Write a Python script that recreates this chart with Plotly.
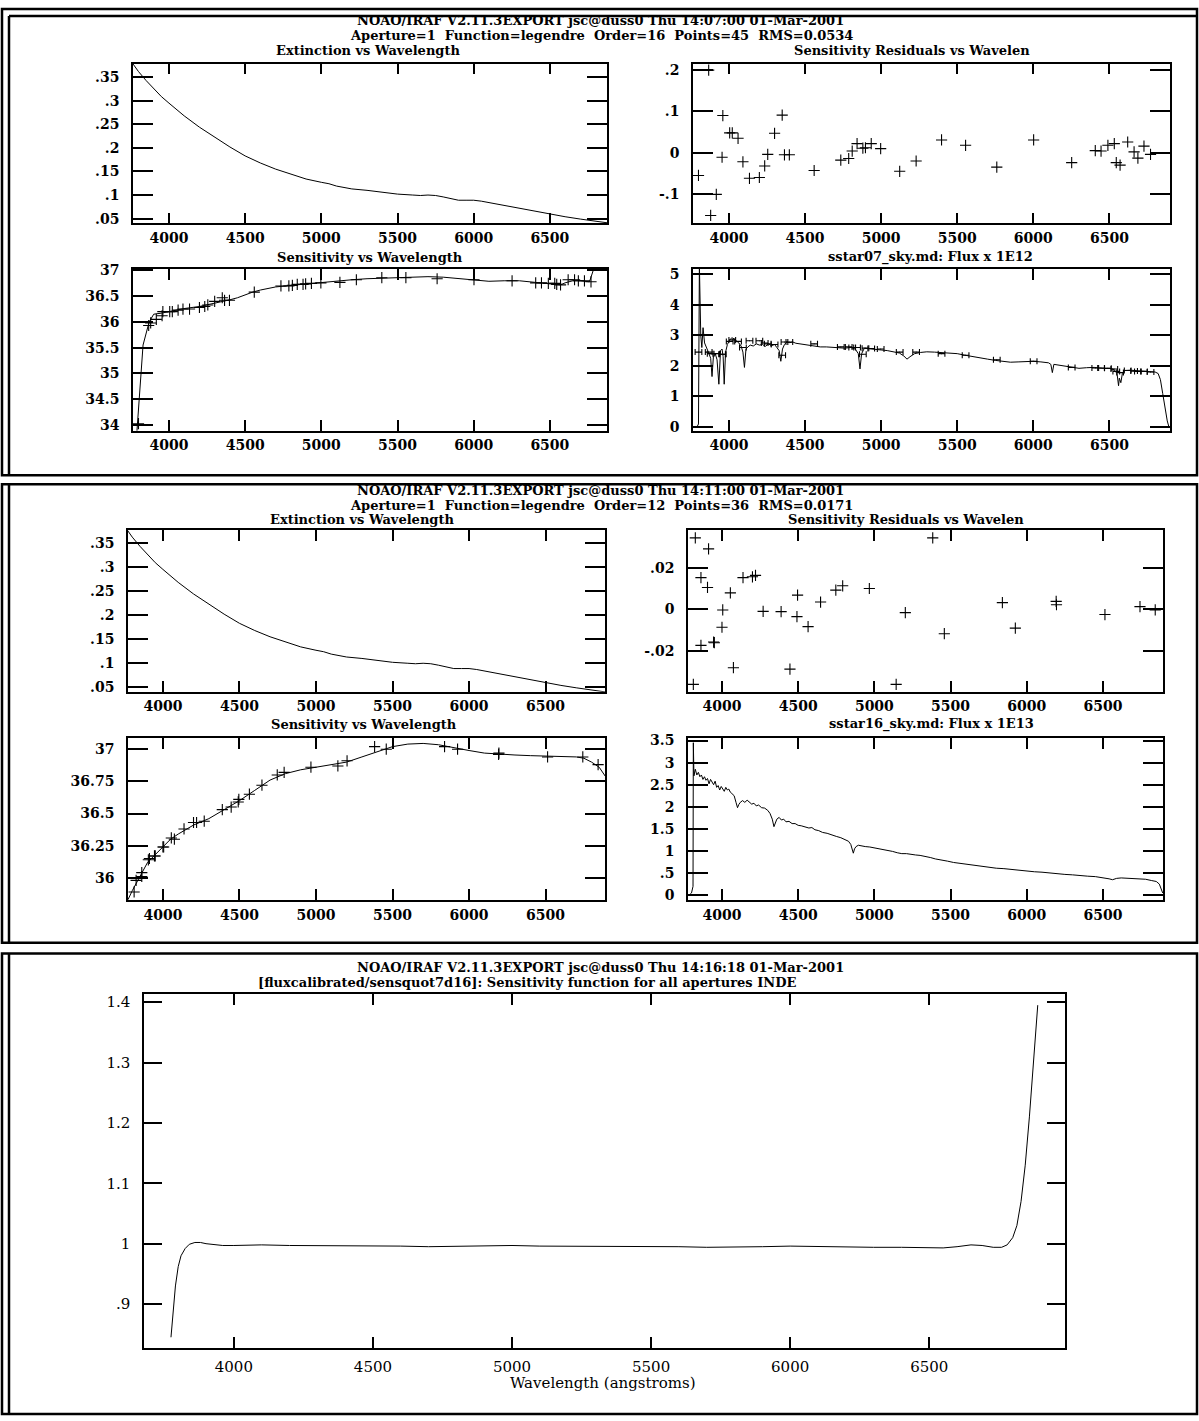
import plotly.graph_objects as go

W, H = 1199, 1421

# ---------------- data ----------------
# extinction curve (same in both fits)
ext_wl = [3760, 3800, 3850, 3900, 3950, 4000, 4100, 4200, 4300, 4400, 4500, 4600, 4700, 4800,
          4900, 5000, 5050, 5100, 5200, 5300, 5400, 5500, 5600, 5650, 5700, 5750, 5800, 5850,
          5900, 5950, 6000, 6050, 6100, 6200, 6300, 6400, 6500, 6600, 6700, 6800, 6900]
ext_val = [0.380, 0.362, 0.343, 0.325, 0.309, 0.295, 0.268, 0.244, 0.223, 0.202, 0.183, 0.168,
           0.155, 0.144, 0.134, 0.127, 0.124, 0.119, 0.113, 0.110, 0.106, 0.102, 0.100, 0.099,
           0.100, 0.099, 0.096, 0.092, 0.089, 0.089, 0.089, 0.087, 0.084, 0.078, 0.072, 0.065,
           0.059, 0.054, 0.049, 0.044, 0.040]

# ---- fit 1 (sstar07) ----
star1_wl = [3800, 3867, 3880, 3917, 3955, 3960, 4005, 4022, 4060, 4092, 4135, 4200, 4235, 4255,
            4300, 4350, 4365, 4397, 4560, 4735, 4787, 4810, 4842, 4880, 4897, 4935, 4997, 5122,
            5230, 5397, 5555, 5760, 6002, 6252, 6407, 6445, 6490, 6532, 6545, 6570, 6620, 6662,
            6687, 6727, 6770]
res1_val = [-0.055, 0.200, -0.152, -0.101, -0.011, 0.090, 0.048, 0.048, 0.035, -0.022, -0.062,
            -0.060, -0.032, -0.004, 0.047, 0.091, -0.005, -0.005, -0.043, -0.018, -0.014, 0.004,
            0.022, 0.011, 0.012, 0.022, 0.010, -0.045, -0.020, 0.031, 0.018, -0.035, 0.031,
            -0.024, 0.005, 0.004, 0.018, 0.022, -0.024, -0.030, 0.026, 0.002, -0.013, 0.016,
            -0.004]
sens1_val = [34.02, 35.93, 35.98, 36.05, 36.12, 36.20, 36.20, 36.20, 36.23, 36.25, 36.25, 36.28,
             36.30, 36.33, 36.40, 36.47, 36.42, 36.42, 36.58, 36.70, 36.70, 36.71, 36.73, 36.73,
             36.74, 36.75, 36.76, 36.77, 36.82, 36.86, 36.86, 36.84, 36.82, 36.80, 36.76, 36.76,
             36.75, 36.75, 36.73, 36.72, 36.82, 36.82, 36.80, 36.80, 36.78]
fit1_wl = [3790, 3830, 3870, 3900, 3950, 4000, 4100, 4200, 4300, 4400, 4450, 4500, 4550, 4600,
           4700, 4800, 4900, 5000, 5100, 5200, 5300, 5400, 5500, 5600, 5700, 5800, 5900, 6000,
           6100, 6200, 6300, 6400, 6500, 6570, 6600, 6650, 6700, 6760, 6790]
fit1_val = [33.88, 35.55, 36.00, 36.15, 36.17, 36.20, 36.26, 36.30, 36.36, 36.43, 36.47, 36.53,
            36.58, 36.62, 36.68, 36.71, 36.74, 36.76, 36.79, 36.82, 36.84, 36.85, 36.86, 36.87,
            36.88, 36.87, 36.84, 36.81, 36.79, 36.80, 36.80, 36.77, 36.74, 36.72, 36.76, 36.80,
            36.80, 36.78, 37.05]
band1_val = [2.45, 2.45, 2.40, 2.40, 2.38, 2.38, 2.80, 2.85, 2.80, 2.60, 2.82, 2.82, 2.75, 2.72,
             2.70, 2.35, 2.78, 2.78, 2.72, 2.62, 2.62, 2.60, 2.60, 2.38, 2.58, 2.57, 2.55, 2.45,
             2.45, 2.40, 2.35, 2.20, 2.15, 1.95, 1.93, 1.93, 1.92, 1.90, 1.82, 1.78, 1.85, 1.83,
             1.82, 1.82, 1.80]
flux1_wl = [3790, 3800, 3806, 3815, 3822, 3830, 3840, 3850, 3865, 3880, 3889, 3898, 3910, 3922,
            3934, 3945, 3955, 3962, 3969, 3978, 3990, 4005, 4020, 4035, 4050, 4065, 4080, 4092,
            4102, 4112, 4125, 4140, 4160, 4180, 4200, 4220, 4240, 4260, 4280, 4300, 4315, 4330,
            4341, 4352, 4365, 4380, 4400, 4420, 4440, 4470, 4500, 4530, 4560, 4600, 4640, 4680,
            4720, 4760, 4800, 4830, 4850, 4861, 4872, 4890, 4920, 4960, 5000, 5040, 5080, 5120,
            5150, 5170, 5190, 5220, 5260, 5300, 5350, 5400, 5450, 5500, 5550, 5600, 5650, 5700,
            5750, 5800, 5850, 5900, 5950, 6000, 6050, 6100, 6115, 6125, 6135, 6170, 6220, 6260,
            6300, 6350, 6400, 6450, 6500, 6530, 6550, 6560, 6565, 6575, 6585, 6600, 6640, 6680,
            6720, 6760, 6800, 6820, 6835, 6850, 6865, 6880, 6890]
flux1_val = [0.00, 0.10, 5.30, 3.00, 2.60, 3.25, 2.75, 2.60, 2.45, 2.25, 1.65, 2.30, 2.40, 2.20,
             1.40, 2.50, 2.55, 2.30, 1.40, 2.45, 2.70, 2.85, 2.92, 2.88, 2.82, 2.75, 2.65, 2.45,
             1.95, 2.55, 2.62, 2.68, 2.65, 2.72, 2.68, 2.70, 2.64, 2.72, 2.66, 2.70, 2.60, 2.50,
             2.15, 2.55, 2.70, 2.78, 2.76, 2.78, 2.74, 2.72, 2.68, 2.66, 2.65, 2.62, 2.62, 2.60,
             2.60, 2.58, 2.60, 2.55, 2.40, 1.90, 2.40, 2.58, 2.56, 2.55, 2.52, 2.50, 2.45, 2.42,
             2.32, 2.22, 2.30, 2.40, 2.44, 2.46, 2.45, 2.44, 2.42, 2.40, 2.35, 2.30, 2.26, 2.22,
             2.18, 2.14, 2.12, 2.13, 2.15, 2.15, 2.13, 2.10, 2.05, 1.78, 2.05, 2.02, 1.98, 1.93,
             1.92, 1.94, 1.95, 1.92, 1.92, 1.88, 1.75, 1.35, 1.60, 1.45, 1.75, 1.85, 1.86, 1.84,
             1.82, 1.82, 1.80, 1.75, 1.55, 1.10, 0.60, 0.20, 0.02]

# ---- fit 2 (sstar16) ----
star2_wl = [3825, 3912, 3862, 3905, 3812, 3862, 3945, 3950, 4005, 4000, 4055, 4075, 4138, 4200,
            4220, 4270, 4388, 4446, 4496, 4492, 4565, 4647, 4747, 4792, 4967, 5143, 5203, 5383,
            5459, 5840, 5925, 6193, 6195, 6513, 6743, 6843]
res2_val = [0.0343, 0.0290, 0.0152, 0.0105, -0.0360, -0.0173, -0.0157, -0.0160, -0.0003, -0.0086,
            0.0079, -0.0280, 0.0152, 0.0156, 0.0163, -0.0010, -0.0011, -0.0287, 0.0068, -0.0035,
            -0.0083, 0.0035, 0.0092, 0.0113, 0.0100, -0.0360, -0.0016, 0.0343, -0.0117, 0.0032,
            -0.0090, 0.0038, 0.0022, -0.0025, 0.0013, -0.0003]
sens2_val = [35.98, 36.15, 36.04, 36.14, 35.89, 36.01, 36.17, 36.17, 36.24, 36.24, 36.31, 36.30,
             36.38, 36.43, 36.43, 36.44, 36.53, 36.55, 36.61, 36.59, 36.65, 36.72, 36.80, 36.82,
             36.86, 36.87, 36.91, 37.02, 37.00, 37.02, 37.00, 36.96, 36.97, 36.94, 36.94, 36.88]
fit2_wl = [3772, 3800, 3850, 3900, 3950, 4000, 4050, 4100, 4200, 4300, 4400, 4500, 4600, 4700,
           4800, 4900, 5000, 5100, 5200, 5300, 5400, 5500, 5600, 5700, 5800, 5900, 6000, 6100,
           6200, 6300, 6400, 6500, 6600, 6700, 6750, 6800, 6850, 6890]
fit2_val = [35.83, 35.90, 36.01, 36.12, 36.18, 36.24, 36.30, 36.34, 36.41, 36.46, 36.53, 36.60,
            36.68, 36.76, 36.81, 36.84, 36.86, 36.88, 36.90, 36.94, 36.98, 37.02, 37.04, 37.045,
            37.035, 37.01, 36.99, 36.97, 36.96, 36.955, 36.95, 36.945, 36.94, 36.94, 36.93, 36.90,
            36.86, 36.79]
flux2_wl = [3785, 3800, 3810, 3812, 3816, 3825, 3835, 3845, 3855, 3865, 3875, 3885, 3895, 3905,
            3915, 3925, 3935, 3945, 3955, 3965, 3975, 3985, 3995, 4005, 4015, 4025, 4035, 4045,
            4055, 4065, 4080, 4092, 4102, 4110, 4120, 4135, 4150, 4165, 4180, 4195, 4210, 4225,
            4240, 4260, 4280, 4300, 4315, 4330, 4341, 4350, 4360, 4375, 4390, 4405, 4420, 4440,
            4460, 4480, 4500, 4520, 4545, 4570, 4590, 4610, 4635, 4660, 4690, 4720, 4750, 4780,
            4810, 4830, 4845, 4855, 4862, 4870, 4880, 4895, 4915, 4940, 4970, 5000, 5030, 5060,
            5090, 5120, 5150, 5180, 5210, 5240, 5270, 5300, 5340, 5370, 5400, 5440, 5480, 5520,
            5560, 5600, 5650, 5700, 5750, 5800, 5850, 5900, 5950, 6000, 6050, 6100, 6150, 6200,
            6250, 6300, 6350, 6400, 6450, 6500, 6540, 6563, 6590, 6620, 6660, 6700, 6740, 6780,
            6820, 6850, 6870, 6885, 6892]
flux2_val = [0.00, 0.05, 0.20, 3.45, 2.70, 2.85, 2.72, 2.78, 2.68, 2.72, 2.62, 2.68, 2.60, 2.64,
             2.52, 2.62, 2.55, 2.50, 2.58, 2.44, 2.48, 2.38, 2.46, 2.40, 2.35, 2.44, 2.38, 2.40,
             2.33, 2.30, 2.25, 2.10, 1.98, 2.05, 2.10, 2.14, 2.10, 2.15, 2.10, 2.06, 2.08, 2.02,
             2.04, 1.98, 1.97, 1.92, 1.85, 1.72, 1.55, 1.65, 1.72, 1.76, 1.70, 1.72, 1.66, 1.67,
             1.62, 1.62, 1.58, 1.57, 1.55, 1.52, 1.53, 1.48, 1.46, 1.42, 1.40, 1.36, 1.33, 1.30,
             1.26, 1.22, 1.15, 1.05, 0.95, 1.05, 1.10, 1.13, 1.11, 1.10, 1.09, 1.07, 1.05, 1.03,
             1.02, 0.99, 0.96, 0.94, 0.94, 0.92, 0.91, 0.90, 0.88, 0.85, 0.82, 0.80, 0.77, 0.74,
             0.72, 0.70, 0.68, 0.66, 0.64, 0.61, 0.60, 0.58, 0.56, 0.55, 0.53, 0.52, 0.50, 0.49,
             0.47, 0.46, 0.44, 0.43, 0.42, 0.40, 0.37, 0.35, 0.38, 0.39, 0.38, 0.37, 0.36, 0.36,
             0.33, 0.31, 0.25, 0.12, 0.05]

# ---- sensitivity quotient ----
ratio_wl = [3774, 3780, 3790, 3800, 3810, 3825, 3840, 3860, 3880, 3900, 3930, 3960, 4000, 4100,
            4200, 4300, 4400, 4500, 4600, 4700, 4800, 4900, 5000, 5100, 5200, 5300, 5400, 5500,
            5600, 5700, 5800, 5900, 6000, 6100, 6200, 6300, 6400, 6500, 6550, 6600, 6650, 6690,
            6730, 6760, 6780, 6800, 6815, 6830, 6845, 6860, 6875, 6890]
ratio_val = [0.845, 0.880, 0.930, 0.962, 0.980, 0.992, 0.999, 1.002, 1.002, 1.000, 0.998, 0.997,
             0.997, 0.998, 0.997, 0.997, 0.997, 0.997, 0.996, 0.995, 0.996, 0.997, 0.997, 0.996,
             0.996, 0.996, 0.996, 0.996, 0.995, 0.994, 0.994, 0.995, 0.996, 0.995, 0.994, 0.994,
             0.994, 0.993, 0.993, 0.995, 0.998, 0.997, 0.994, 0.994, 0.998, 1.010, 1.030, 1.070,
             1.130, 1.210, 1.300, 1.395]

# ---- ticks ----
wl_ticks = [4000, 4500, 5000, 5500, 6000, 6500]
wl_labels = ["4000", "4500", "5000", "5500", "6000", "6500"]
ext_ticks = [0.05, 0.1, 0.15, 0.2, 0.25, 0.3, 0.35]
ext_labels = [".05", ".1", ".15", ".2", ".25", ".3", ".35"]
res1_ticks = [-0.1, 0, 0.1, 0.2]
res1_labels = ["-.1", "0", ".1", ".2"]
sens1_ticks = [34, 34.5, 35, 35.5, 36, 36.5, 37]
sens1_labels = ["34", "34.5", "35", "35.5", "36", "36.5", "37"]
flux1_ticks = [0, 1, 2, 3, 4, 5]
flux1_labels = ["0", "1", "2", "3", "4", "5"]
res2_ticks = [-0.02, 0, 0.02]
res2_labels = ["-.02", "0", ".02"]
sens2_ticks = [36, 36.25, 36.5, 36.75, 37]
sens2_labels = ["36", "36.25", "36.5", "36.75", "37"]
flux2_ticks = [0, 0.5, 1, 1.5, 2, 2.5, 3, 3.5]
flux2_labels = ["0", ".5", "1", "1.5", "2", "2.5", "3", "3.5"]
ratio_ticks = [0.9, 1, 1.1, 1.2, 1.3, 1.4]
ratio_labels = [".9", "1", "1.1", "1.2", "1.3", "1.4"]

# ---------------- figure ----------------
BOLD = dict(family="DejaVu Serif", size=14, color="black", weight="bold")
TITLE = dict(family="DejaVu Serif", size=13, color="black", weight="bold")
P3FONT = dict(family="DejaVu Serif", size=15, color="black")

fig = go.Figure()
layout = dict(width=W, height=H, margin=dict(l=0, r=0, t=0, b=0),
              paper_bgcolor="white", plot_bgcolor="white", showlegend=False)

# (left, top, right, bottom) in px ; x range ; y range ; y ticks
panels = [
    ((133, 57, 607, 218), [3764, 6875], [0.040, 0.379], ext_ticks, ext_labels, BOLD),
    ((693, 57, 1170, 218), [3764, 6898], [-0.171, 0.216], res1_ticks, res1_labels, BOLD),
    ((133, 264, 607, 427), [3764, 6875], [33.884, 37.03], sens1_ticks, sens1_labels, BOLD),
    ((693, 264, 1170, 427), [3764, 6898], [-0.12, 5.17], flux1_ticks, flux1_labels, BOLD),
    ((128, 527, 605, 690), [3772, 6888], [0.041, 0.377], ext_ticks, ext_labels, BOLD),
    ((688, 527, 1163, 690), [3777, 6894], [-0.0395, 0.0381], res2_ticks, res2_labels, BOLD),
    ((128, 737, 605, 900), [3772, 6888], [35.827, 37.085], sens2_ticks, sens2_labels, BOLD),
    ((688, 737, 1163, 900), [3777, 6894], [-0.11, 3.55], flux2_ticks, flux2_labels, BOLD),
    ((144, 995, 1065, 1351), [3677, 6988], [0.828, 1.413], ratio_ticks, ratio_labels, P3FONT),
]

for i, (box, xr, yr, yt, ytl, tf) in enumerate(panels, start=1):
    l, t, r, b = box
    sx = "" if i == 1 else str(i)
    layout["xaxis" + sx] = dict(
        domain=[l / W, r / W], range=xr, anchor="y" + sx,
        tickvals=wl_ticks, ticktext=wl_labels, ticks="inside", ticklen=11, tickwidth=2,
        tickcolor="black", showline=True, linecolor="black", linewidth=1.5, mirror="ticks",
        showgrid=False, zeroline=False, tickfont=tf,
        ticklabelstandoff=1 if i < 9 else 5, fixedrange=True)
    layout["yaxis" + sx] = dict(
        domain=[1 - b / H, 1 - t / H], range=yr, anchor="x" + sx,
        tickvals=yt, ticktext=ytl, ticks="inside", ticklen=20 if i < 9 else 18, tickwidth=2,
        tickcolor="black", showline=True, linecolor="black", linewidth=1.5, mirror="ticks",
        showgrid=False, zeroline=False, tickfont=tf, ticklabelstandoff=9, fixedrange=True)


def line(x, y, ax, w=1.0):
    fig.add_trace(go.Scatter(x=x, y=y, mode="lines", xaxis="x" + ax, yaxis="y" + ax,
                             line=dict(color="black", width=w), hoverinfo="skip"))


def crosses(x, y, ax):
    fig.add_trace(go.Scatter(x=x, y=y, mode="markers", xaxis="x" + ax, yaxis="y" + ax,
                             marker=dict(symbol="cross-thin", size=8,
                                         line=dict(color="black", width=1.1)),
                             hoverinfo="skip"))


# panel 1
line(ext_wl, ext_val, "")
crosses(star1_wl, res1_val, "2")
line(fit1_wl, fit1_val, "3")
crosses(star1_wl, sens1_val, "3")
line(flux1_wl, flux1_val, "4")
fig.add_trace(go.Scatter(x=star1_wl, y=band1_val, mode="markers", xaxis="x4", yaxis="y4",
                         marker=dict(size=1, color="black"),
                         error_x=dict(type="constant", value=22, color="black",
                                      thickness=1.1, width=3), hoverinfo="skip"))
# panel 2
line(ext_wl, ext_val, "5")
crosses(star2_wl, res2_val, "6")
line(fit2_wl, fit2_val, "7")
crosses(star2_wl, sens2_val, "7")
line(flux2_wl, flux2_val, "8")
# panel 3
line(ratio_wl, ratio_val, "9")

# ---------------- titles ----------------
texts = [
    ("NOAO/IRAF V2.11.3EXPORT jsc@duss0 Thu 14:07:00 01-Mar-2001", 600, 14, TITLE),
    ("Aperture=1  Function=legendre  Order=16  Points=45  RMS=0.0534", 601, 29, TITLE),
    ("Extinction vs Wavelength", 368, 44, TITLE),
    ("Sensitivity Residuals vs Wavelen", 912, 44, TITLE),
    ("Sensitivity vs Wavelength", 370, 252, TITLE),
    ("sstar07_sky.md: Flux x 1E12", 930, 252, TITLE),
    ("NOAO/IRAF V2.11.3EXPORT jsc@duss0 Thu 14:11:00 01-Mar-2001", 600, 487, TITLE),
    ("Aperture=1  Function=legendre  Order=12  Points=36  RMS=0.0171", 601, 502, TITLE),
    ("Extinction vs Wavelength", 362, 517, TITLE),
    ("Sensitivity Residuals vs Wavelen", 906, 517, TITLE),
    ("Sensitivity vs Wavelength", 364, 723, TITLE),
    ("sstar16_sky.md: Flux x 1E13", 932, 723, TITLE),
    ("NOAO/IRAF V2.11.3EXPORT jsc@duss0 Thu 14:16:18 01-Mar-2001", 600, 968, TITLE),
    ("[fluxcalibrated/sensquot7d16]: Sensitivity function for all apertures INDE", 527, 983, TITLE),
    ("Wavelength (angstroms)", 603, 1387, P3FONT),
]
annotations = []
for txt, cx, cy, f in texts:
    annotations.append(dict(text=txt.replace("  ", "\u00a0\u00a0"), x=cx / W, y=1 - cy / H,
                            xref="paper", yref="paper", showarrow=False, font=f,
                            xanchor="center", yanchor="middle"))
layout["annotations"] = annotations

# ---------------- frames ----------------
def rect(x0, y0, x1, y1, w=2.5):
    return dict(type="rect", xref="paper", yref="paper", x0=x0 / W, x1=x1 / W,
                y0=1 - y0 / H, y1=1 - y1 / H, line=dict(color="black", width=w),
                fillcolor="rgba(0,0,0,0)", layer="above")


def seg(x0, y0, x1, y1, w=2.5):
    return dict(type="line", xref="paper", yref="paper", x0=x0 / W, x1=x1 / W,
                y0=1 - y0 / H, y1=1 - y1 / H, line=dict(color="black", width=w))


layout["shapes"] = [
    rect(2, 2, 1197, 472), seg(9, 9, 1197, 9), seg(9, 9, 9, 472),
    rect(2, 481, 1197, 943), seg(9, 481, 9, 943),
    rect(2, 954, 1197, 1418), seg(9, 954, 9, 1418),
]

fig.update_layout(**layout)
fig.write_html("out.html", config={"displayModeBar": False},
               post_script="document.body.style.margin='0';document.body.style.padding='0';")
